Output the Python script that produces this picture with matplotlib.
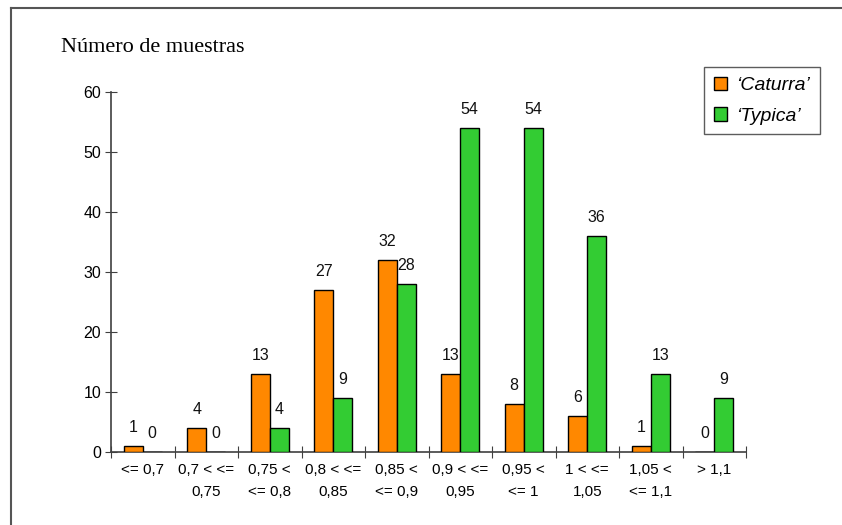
import numpy as np
import matplotlib
matplotlib.use("Agg")
import matplotlib.pyplot as plt
from matplotlib.lines import Line2D

# counts per ratio class
categorias = ["<= 0,7", "0,7 < <=\n0,75", "0,75 <\n<= 0,8", "0,8 < <=\n0,85",
              "0,85 <\n<= 0,9", "0,9 < <=\n0,95", "0,95 <\n<= 1", "1 < <=\n1,05",
              "1,05 <\n<= 1,1", "> 1,1"]
caturra = [1, 4, 13, 27, 32, 13, 8, 6, 1, 0]
typica = [0, 0, 4, 9, 28, 54, 54, 36, 13, 9]

naranja = "#FF8800"
verde = "#33CC33"
eje = "#404040"

fig = plt.figure(figsize=(8.42, 5.25), dpi=100)
ax = fig.add_axes([111/842, 73/525, 635/842, 360/525])

x = np.arange(len(categorias)) + 0.5
w = 0.3
b1 = ax.bar(x - w/2, caturra, w, color=naranja, edgecolor="black", linewidth=1.0,
            label="\u2018Caturra\u2019", zorder=3)
b2 = ax.bar(x + w/2, typica, w, color=verde, edgecolor="black", linewidth=1.0,
            label="\u2018Typica\u2019", zorder=3)

for bars, vals in ((b1, caturra), (b2, typica)):
    for r, v in zip(bars, vals):
        ax.annotate(str(v), (r.get_x() + r.get_width()/2, v), xytext=(0, 8),
                    textcoords="offset points", ha="center", va="bottom",
                    fontsize=11.5, family="Liberation Sans", color="#111111")

ax.set_xlim(0, len(categorias))
ax.set_ylim(0, 60)
ax.set_yticks(range(0, 61, 10))
ax.set_xticks(range(len(categorias) + 1))
ax.set_xticklabels([])
ax.set_xticks(x, minor=True)
ax.set_xticklabels(categorias, minor=True, fontsize=11, family="Liberation Sans",
                   linespacing=1.75, va="top")
ax.tick_params(axis="x", which="minor", length=0, pad=8)
ax.tick_params(axis="x", which="major", direction="inout", length=8, color=eje)
ax.tick_params(axis="y", direction="inout", length=8, color=eje, pad=3)
for lab in ax.get_yticklabels():
    lab.set_fontsize(11.5)
    lab.set_family("Liberation Sans")

for s in ("top", "right"):
    ax.spines[s].set_visible(False)
for s in ("left", "bottom"):
    ax.spines[s].set_color(eje)
    ax.spines[s].set_linewidth(1.2)

fig.text(61/842, 1 - 47/525, "Número de muestras", family="Liberation Serif",
         fontsize=16, va="center", ha="left")

leg = fig.legend(handles=[b1, b2], loc="upper left",
                 bbox_to_anchor=(704/842, 1 - 67/525), frameon=True, fancybox=False,
                 edgecolor="#333333", handlelength=0.7, handleheight=0.7,
                 handletextpad=0.45, borderpad=0.5, labelspacing=0.65,
                 borderaxespad=0,
                 prop={"family": "Liberation Sans", "style": "italic", "size": 14})
leg.get_frame().set_linewidth(1.0)

# page frame, top and left edges
fig.add_artist(Line2D([11/842, 1], [1 - 8/525, 1 - 8/525], color="#555555", lw=1.5,
                      transform=fig.transFigure))
fig.add_artist(Line2D([11/842, 11/842], [0, 1 - 8/525], color="#555555", lw=1.5,
                      transform=fig.transFigure))

fig.savefig("out.png", dpi=100)
